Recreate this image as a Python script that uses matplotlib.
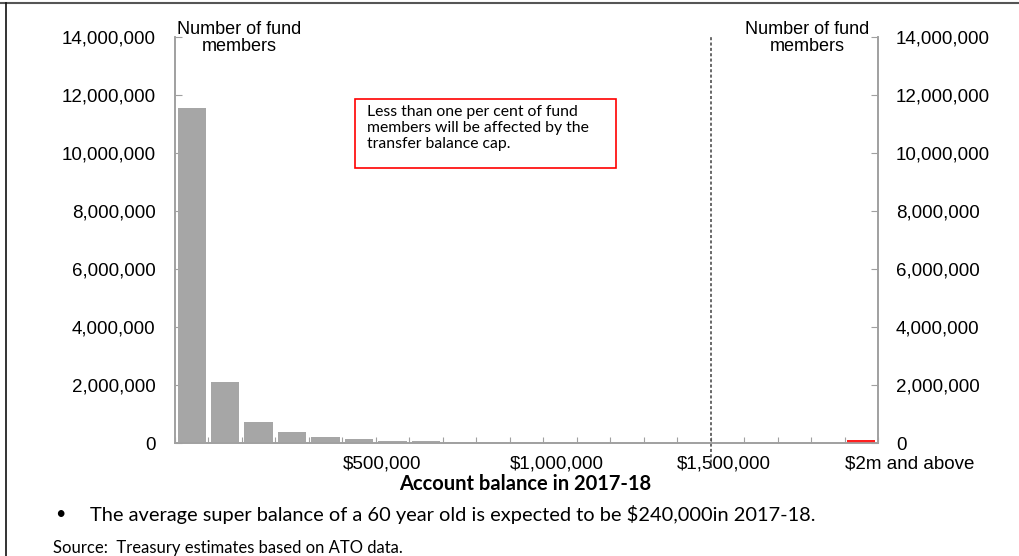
import matplotlib
matplotlib.use('Agg')
import matplotlib.pyplot as plt
import numpy as np
from matplotlib.patches import Rectangle
from matplotlib.lines import Line2D

# number of fund members per $100,000 account balance band, last band is $2m and above
members = [11550000, 2100000, 730000, 390000, 220000, 150000, 85000, 55000, 40000, 30000,
           24000, 20000, 15000, 12000, 10000, 8000, 7000, 6000, 5000, 4500, 95000]
bar_colors = ['#a6a6a6'] * 20 + ['#ff1f1f']
cap_band = 16  # transfer balance cap line sits at this band boundary
x_labels = ['$500,000', '$1,000,000', '$1,500,000', '$2m and above']
x_label_pos = [5, 10, 15, 20]
y_ticks = [0, 2000000, 4000000, 6000000, 8000000, 10000000, 12000000, 14000000]

axis_font = 'Liberation Sans'
body_font = 'Lato'
grey = '#a0a0a0'

fig = plt.figure(figsize=(10.19, 5.56), dpi=100)
ax = fig.add_axes([175/1019, 1-443/556, 703/1019, 406/556])

xs = np.arange(len(members)) + 0.5
ax.bar(xs, members, width=0.85, color=bar_colors, linewidth=0, zorder=3)

ax.set_xlim(0, len(members))
ax.set_ylim(0, 14000000)

ax2 = ax.twinx()
ax2.set_ylim(0, 14000000)

for a in (ax, ax2):
    a.set_yticks(y_ticks)
    a.set_yticklabels([f'{v:,}' for v in y_ticks], fontsize=13.5, family=axis_font)
    a.spines['top'].set_visible(False)
    for s in ['left', 'right', 'bottom']:
        a.spines[s].set_color(grey)
        a.spines[s].set_linewidth(1.2)
    a.tick_params(axis='y', direction='in', length=5, color=grey)

ax.tick_params(axis='y', pad=14)
ax2.tick_params(axis='y', pad=13)

ax.set_xticks(np.arange(0, len(members) + 1))
ax.set_xticklabels([])
ax.tick_params(axis='x', direction='in', length=4, color=grey)

for lab, p in zip(x_labels, x_label_pos):
    ax.text(p, -420000, lab, ha='left', va='top', fontsize=13.5, family=axis_font)

# dotted line at the transfer balance cap
ax.add_line(Line2D([cap_band, cap_band], [-850000, 14000000], color='#404040',
                   linestyle=(0, (2, 1.5)), linewidth=1.1, clip_on=False, zorder=4))

ax.text(0.05, 13950000, 'Number of fund\nmembers', ha='left', va='center', fontsize=13,
        family=axis_font, linespacing=1.0, multialignment='center')
ax.text(len(members) - 0.25, 13950000, 'Number of fund\nmembers', ha='right', va='center',
        fontsize=13, family=axis_font, linespacing=1.0, multialignment='center')

fig.text(525/1019, 1-484/556, 'Account balance in 2017-18', ha='center', va='center',
         fontsize=14.5, fontweight='bold', family=body_font)

# annotation box
fig.patches.append(Rectangle((355/1019, 1-168/556), 261/1019, 69/556, transform=fig.transFigure,
                             fill=False, edgecolor='#ff0000', linewidth=1.2))
fig.text(367/1019, 1-105/556, 'Less than one per cent of fund\nmembers will be affected by the\ntransfer balance cap.',
         ha='left', va='top', fontsize=11.3, family=body_font, linespacing=1.2)

fig.text(60/1019, 1-514/556, '\u2022', ha='center', va='center', fontsize=13, family=body_font)
fig.text(90/1019, 1-514/556, 'The average super balance of a 60 year old is expected to be $240,000in 2017-18.',
         ha='left', va='center', fontsize=14.4, family=body_font)
fig.text(53/1019, 1-548/556, 'Source:  Treasury estimates based on ATO data.', ha='left', va='center',
         fontsize=12, family=body_font)

# frame lines from the slide
fig.add_artist(Line2D([0, 1], [1-3/556, 1-3/556], color='#555555', linewidth=1.5, transform=fig.transFigure))
fig.add_artist(Line2D([6/1019, 6/1019], [0, 1-3/556], color='#111111', linewidth=1.2, transform=fig.transFigure))

fig.savefig('out.png', dpi=100)
